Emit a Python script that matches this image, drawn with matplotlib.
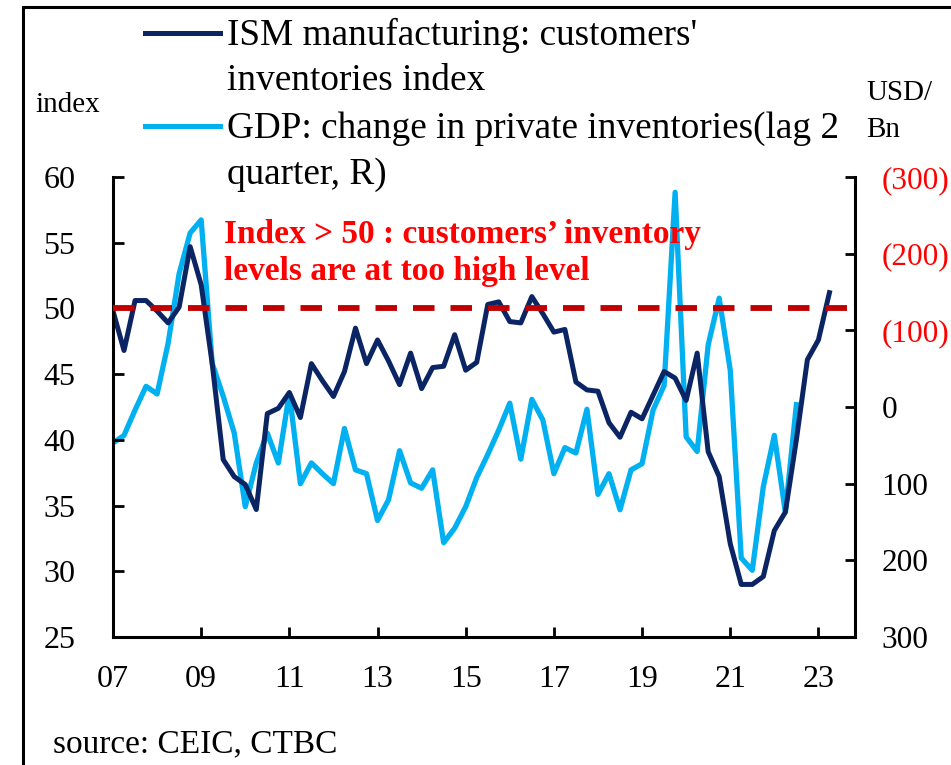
import numpy as np
import matplotlib
matplotlib.use("Agg")
import matplotlib.pyplot as plt
from matplotlib.lines import Line2D
from matplotlib.patches import Rectangle

# ---- data: quarterly, first observation = 2007 Q1 ----
start_year = 2007

ism_customers_inventories = [
    49.8, 46.8, 50.6, 50.6, 49.8, 48.9, 50.1, 54.7,   # 2007-2008
    51.8, 45.8, 38.5, 37.2, 36.6, 34.7, 42.0, 42.4,   # 2009-2010
    43.6, 41.7, 45.8, 44.5, 43.3, 45.2, 48.5, 45.8,   # 2011-2012
    47.6, 46.0, 44.2, 46.6, 43.9, 45.5, 45.6, 48.0,   # 2013-2014
    45.3, 45.9, 50.3, 50.5, 49.0, 48.9, 50.9, 49.6,   # 2015-2016
    48.2, 48.4, 44.4, 43.8, 43.7, 41.3, 40.2, 42.1,   # 2017-2018
    41.6, 43.4, 45.2, 44.7, 43.0, 46.6, 39.1, 37.2,   # 2019-2020
    32.1, 29.0, 29.0, 29.6, 33.1, 34.5, 40.0, 46.1,   # 2021-2022
    47.6, 51.2,                                       # 2023
]

# change in private inventories, USD bn, shifted two quarters forward
gdp_inventory_change_lag2 = [
    47, 37, 4, -27, -17, -83, -174, -227,
    -244, -57, -14, 34, 130, 73, 34, 73,
    -18, 100, 73, 87, 100, 28, 82, 87,
    148, 121, 57, 99, 106, 82, 177, 158,
    130, 92, 62, 30, -5, 68, -10, 17,
    87, 53, 60, 3, 114, 87, 134, 82,
    74, 4, -28, -280, 39, 58, -81, -142,
    -48, 197, 213, 104, 37, 137, -3,
]

threshold = 50

x_ticks = [2007, 2009, 2011, 2013, 2015, 2017, 2019, 2021, 2023]
x_tick_labels = ["07", "09", "11", "13", "15", "17", "19", "21", "23"]
left_ticks = [25, 30, 35, 40, 45, 50, 55, 60]
right_ticks = [-300, -200, -100, 0, 100, 200, 300]
right_tick_labels = ["(300)", "(200)", "(100)", "0", "100", "200", "300"]

legend_ism = ["ISM manufacturing: customers'", "inventories index"]
legend_gdp = ["GDP: change in private inventories(lag 2", "quarter, R)"]
note_lines = ["Index > 50 : customers\u2019 inventory",
              "levels are at too high level"]

# ---- style ----
NAVY = "#0B2463"
SKY = "#00B0F0"
DARK_RED = "#C00000"
RED = "#FF0000"

plt.rcParams["font.family"] = ["Liberation Serif", "DejaVu Serif"]
plt.rcParams["lines.scale_dashes"] = False

W, H = 951, 765
fig = plt.figure(figsize=(W / 100, H / 100), dpi=100)
fig.patch.set_facecolor("white")


def fx(px):
    return px / W


def fy(py):
    return 1 - py / H


ax = fig.add_axes([fx(113), fy(637), fx(855) - fx(113), fy(177) - fy(637)])
ax2 = ax.twinx()
ax.set_zorder(ax2.get_zorder() + 1)
ax.patch.set_visible(False)

x_ism = start_year + np.arange(len(ism_customers_inventories)) / 4
x_gdp = start_year + np.arange(len(gdp_inventory_change_lag2)) / 4

ax2.plot(x_gdp, gdp_inventory_change_lag2, color=SKY, lw=3.8,
         solid_joinstyle="round")
ax.plot(x_ism, ism_customers_inventories, color=NAVY, lw=3.6,
        solid_joinstyle="round")
ax.axhline(threshold, color=DARK_RED, lw=4.2, dashes=(15.5, 11.5),
           dash_capstyle="butt", zorder=5)

ax.set_xlim(2007, 2023.83)
ax.set_ylim(25, 60)
ax2.set_ylim(300, -300)

ax.set_xticks(x_ticks)
ax.set_xticklabels(x_tick_labels)
ax.set_yticks(left_ticks)
ax.set_yticklabels([str(v) for v in left_ticks])
ax2.set_yticks(right_ticks)
ax2.set_yticklabels(right_tick_labels)
for lab, v in zip(ax2.get_yticklabels(), right_ticks):
    lab.set_color(RED if v < 0 else "black")

for a in (ax, ax2):
    a.spines["top"].set_visible(False)
ax.spines["right"].set_visible(False)
ax2.spines["left"].set_visible(False)
ax2.spines["bottom"].set_visible(False)
for s in ("left", "bottom"):
    ax.spines[s].set_linewidth(2.2)
ax2.spines["right"].set_linewidth(2.2)

ax.tick_params(axis="x", direction="in", length=7, width=2.0, pad=20,
               labelsize=23)
ax.tick_params(axis="y", direction="in", length=8, width=2.0, pad=27,
               labelsize=23)
ax2.tick_params(axis="y", direction="in", length=7, width=2.0, pad=19,
                labelsize=22.5)

# outer frame
fig.add_artist(Rectangle((fx(23), -0.2), 1.5, fy(7) + 0.2,
                         transform=fig.transFigure, fill=False,
                         lw=2.2, ec="black", clip_on=False))

# legend
for (yl, col) in ((33, NAVY), (126, SKY)):
    fig.add_artist(Line2D([fx(145), fx(220)], [fy(yl), fy(yl)],
                          transform=fig.transFigure, color=col, lw=3.6))
for txt, yb in zip(legend_ism + legend_gdp, (45, 90, 138, 184)):
    fig.text(fx(227), fy(yb), txt, fontsize=26.8, va="baseline", ha="left")

# axis unit labels
fig.text(fx(35), fy(112), "index", fontsize=21, va="baseline")
fig.text(fx(866), fy(100), "USD/", fontsize=21, va="baseline")
fig.text(fx(866), fy(137), "Bn", fontsize=21, va="baseline")

# threshold note
for txt, yb in zip(note_lines, (243, 280)):
    fig.text(fx(224), fy(yb), txt, fontsize=24, fontweight="bold",
             color=RED, va="baseline")

fig.text(fx(53), fy(752), "source: CEIC, CTBC", fontsize=24, va="baseline")

fig.savefig("out.png", dpi=100)
